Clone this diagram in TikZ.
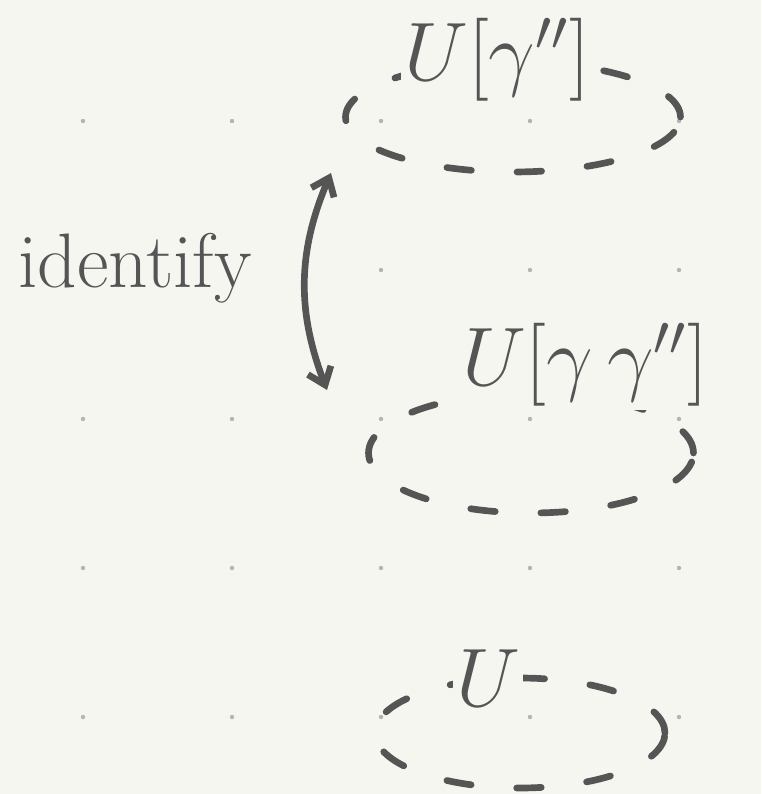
\documentclass[tikz,border=0pt]{standalone}
\usepackage{amsmath}
\usepackage{graphicx}
\usepackage{tikz}
\usetikzlibrary{shapes.geometric, arrows.meta}
\definecolor{ink}{HTML}{555555}
\definecolor{paper}{HTML}{F6F6F1}
\definecolor{griddot}{HTML}{B4B4B4}
\newcommand{\biglabel}[1]{\scalebox{1.9}{\fontsize{24}{28}\selectfont$#1$}}

\begin{document}
\begin{tikzpicture}[x=0.02cm, y=-0.02cm]
    \tikzstyle{region}=[ellipse, draw=ink, line width=3.8pt, dash pattern=on 14pt off 26pt, line cap=round]
    \tikzstyle{lbl}=[text=ink, inner sep=2pt, fill=paper]

    \fill[paper] (0,0) rectangle (761,794);
    \useasboundingbox (0,0) rectangle (761,794);

    \foreach \i in {0,...,4} {
        \foreach \j in {0,...,4} {
            \fill[griddot] (83+\i*149, 121+\j*149) circle (2.2);
        }
    }

    \node[region, minimum width=6.7cm, minimum height=2.2cm] (r1) at (513,117) {};
    \node[region, minimum width=6.5cm, minimum height=2.4cm] (r2) at (531,453) {};
    \node[region, minimum width=5.8cm, minimum height=2.2cm] (r3) at (520,733) {};

    \node[lbl] (l1) at (497,60) {\biglabel{U[\gamma'']}};
    \node[lbl] (l2) at (585,365) {\biglabel{U[\gamma\,\gamma'']}};
    \node[lbl] (l3) at (488,678) {\biglabel{U}};

    \node[lbl, font=\fontsize{44}{48}\selectfont] (id) at (135,268) {identify};

    \coordinate (a1) at (331,173);
    \coordinate (a2) at (327,390);
    \draw[<->, >={Straight Barb[length=9pt, width=14pt]}, ink, line width=3.8pt, line cap=round] (a1) to[bend right=22] (a2);
\end{tikzpicture}
\end{document}
